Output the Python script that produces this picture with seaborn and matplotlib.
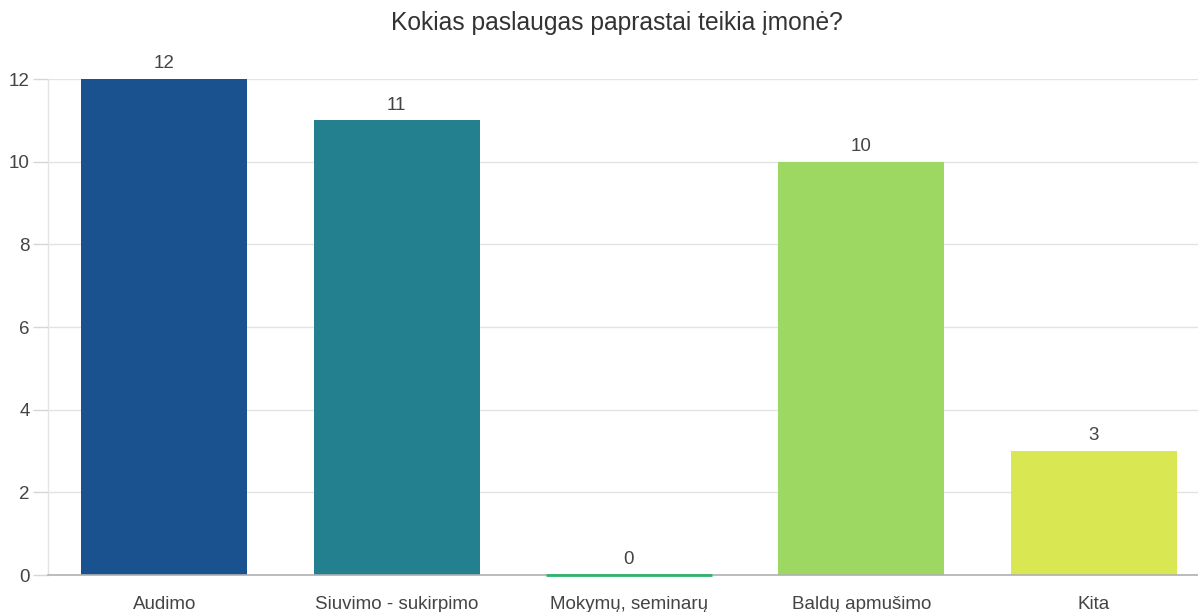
import matplotlib
matplotlib.use("Agg")
import matplotlib.pyplot as plt
import seaborn as sns
import pandas as pd

categories = ["Audimo", "Siuvimo - sukirpimo", "Mokymų, seminarų", "Baldų apmušimo", "Kita"]
values = [12, 11, 0, 10, 3]
colors = ["#1a518f", "#23818f", "#2db56d", "#9dd863", "#d9e752"]
yticks = [0, 2, 4, 6, 8, 10, 12]
title = "Kokias paslaugas paprastai teikia įmonė?"

sns.set_theme(style="white")
plt.rcParams["font.family"] = ["Liberation Sans", "DejaVu Sans"]

df = pd.DataFrame({"cat": categories, "val": values})

fig = plt.figure(figsize=(11.98, 6.12), dpi=100)
ax = fig.add_axes([48 / 1198, 1 - 575 / 612, 1162 / 1198, (575 - 79) / 612])

sns.barplot(data=df, x="cat", y="val", hue="cat", palette=colors, legend=False,
            width=0.714, ax=ax, saturation=1)

for p in ax.patches:
    if p.get_height() == 0:
        p.set_edgecolor(p.get_facecolor())
        p.set_linewidth(2.0)
        p.set_zorder(4)
        p.set_clip_on(False)
    else:
        p.set_linewidth(0)

for i, v in enumerate(values):
    ax.text(i, v + 0.16, str(v), ha="center", va="bottom", fontsize=13.5, color="#444444")

ax.set_ylim(0, 12)
ax.set_xlim(-0.5, len(categories) - 0.5)
ax.set_yticks(yticks)
ax.set_yticklabels([str(t) for t in yticks])
ax.yaxis.grid(True, color="#e3e3e3", linewidth=1)
ax.set_axisbelow(True)
ax.set_xlabel("")
ax.set_ylabel("")
for s in ["top", "right"]:
    ax.spines[s].set_visible(False)
ax.spines["left"].set_color("#e3e3e3")
ax.spines["left"].set_linewidth(1)
ax.spines["bottom"].set_color("#b0b0b0")
ax.spines["bottom"].set_linewidth(1.2)
ax.tick_params(axis="y", length=11, color="#d6d6d6", width=1, labelsize=13.5,
               labelcolor="#444444", pad=2, left=True)
ax.tick_params(axis="x", length=0, labelsize=13.5, labelcolor="#444444", pad=15)

fig.text(617 / 1198, 1 - 23 / 612, title, ha="center", va="center", fontsize=17.7,
         color="#333333")

fig.savefig("out.png", dpi=100)
